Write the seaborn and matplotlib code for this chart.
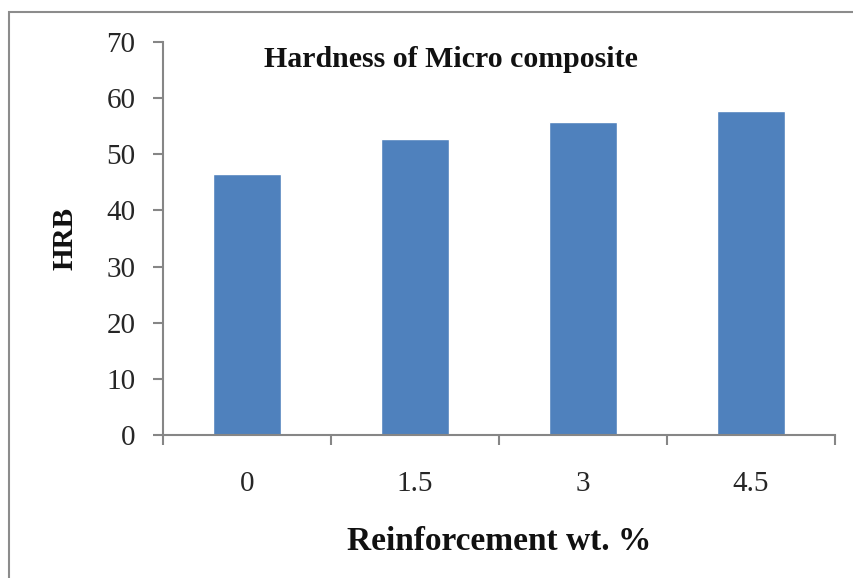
import numpy as np
import pandas as pd
import matplotlib
matplotlib.use("Agg")
import matplotlib.pyplot as plt
import seaborn as sns
from matplotlib.patches import Rectangle
from matplotlib.ticker import FixedLocator

# dados
reforco = ["0", "1.5", "3", "4.5"]
dureza_hrb = [46.5, 52.8, 55.7, 57.7]
y_ticks = [0, 10, 20, 30, 40, 50, 60, 70]

df = pd.DataFrame({"Reforco": reforco, "HRB": dureza_hrb})

sns.set_style("white")
plt.rcParams["font.family"] = ["Liberation Serif", "DejaVu Serif"]

fig = plt.figure(figsize=(8.54, 5.78), dpi=100)
ax = fig.add_axes([0.1909, 0.2474, 0.7869, 0.6799])

sns.barplot(data=df, x="Reforco", y="HRB", color="#4F81BD", saturation=1,
            width=0.4, ax=ax)

ax.set_xlim(-0.5, 3.5)
ax.set_ylim(0, 70)
ax.set_yticks(y_ticks)

cinza = "#868686"
for lado in ["top", "right"]:
    ax.spines[lado].set_visible(False)
for lado in ["left", "bottom"]:
    ax.spines[lado].set_color(cinza)
    ax.spines[lado].set_linewidth(1.5)

ax.tick_params(axis="y", direction="out", length=7, width=1.5, color=cinza,
               labelsize=21, labelcolor="#262626", pad=13, left=True)
ax.tick_params(axis="x", which="major", length=0, labelsize=21,
               labelcolor="#262626", pad=26)
ax.xaxis.set_minor_locator(FixedLocator(np.arange(-0.5, 4.0, 1.0)))
ax.tick_params(axis="x", which="minor", direction="out", length=7, width=1.5,
               color=cinza, bottom=True)

ax.set_xlabel("Reinforcement wt. %", fontsize=24, fontweight="bold",
              color="#111111")
ax.xaxis.set_label_coords(0.5, -0.232)
ax.set_ylabel("HRB", fontsize=21, fontweight="bold", color="#111111")
ax.yaxis.set_label_coords(-0.126, 0.5)

ax.text(0.4286, 0.936, "Hardness of Micro composite", transform=ax.transAxes,
        ha="center", va="baseline", fontsize=21.5, fontweight="bold",
        color="#111111")

# moldura externa
fig.patches.append(Rectangle((9 / 854, -0.05), 1.2, (578 - 12) / 578 + 0.05,
                             transform=fig.transFigure, fill=False,
                             edgecolor="#8c8c8c", linewidth=1.5))

fig.savefig("out.png", dpi=100)
